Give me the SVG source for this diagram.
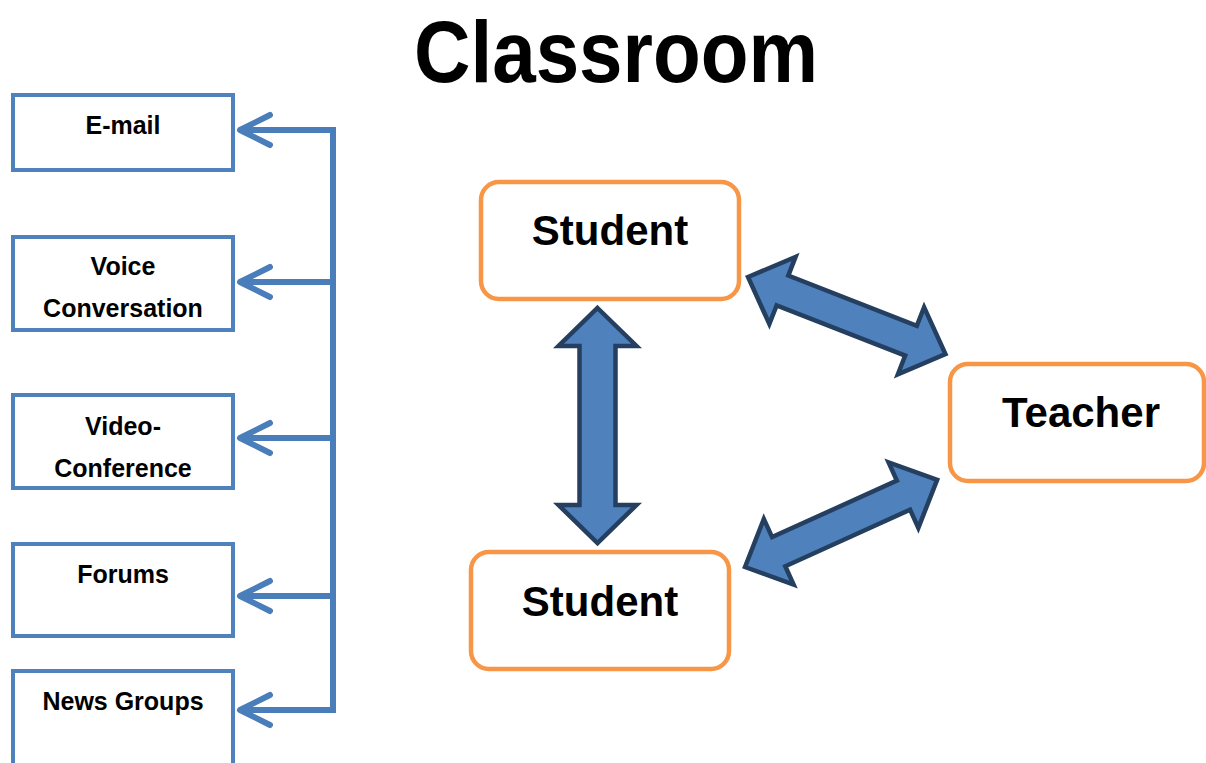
<svg xmlns="http://www.w3.org/2000/svg" width="1206" height="763" viewBox="0 0 1206 763">
<defs>
<style>
.lbox{fill:#fff;stroke:#4F81BD;stroke-width:4}
.obox{fill:#fff;stroke:#F79646;stroke-width:4.5}
.lt{font-family:"Liberation Sans",Arial,sans-serif;font-weight:bold;font-size:25px;fill:#000;text-anchor:middle}
.bt{font-family:"Liberation Sans",Arial,sans-serif;font-weight:bold;font-size:42px;fill:#000;text-anchor:middle}
.conn{fill:none;stroke:#4A7EBB;stroke-width:6}
.blk{fill:#4F81BD;stroke:#243F60;stroke-width:4.5;stroke-linejoin:miter}
</style>
<marker id="chev" viewBox="-36 -20 42 40" markerWidth="42" markerHeight="40" refX="0" refY="0" orient="auto" markerUnits="userSpaceOnUse">
<path d="M-30,-15 L0,0 L-30,15" fill="none" stroke="#4A7EBB" stroke-width="6" stroke-linecap="round" stroke-linejoin="round"/>
</marker>
</defs>
<rect width="1206" height="763" fill="#fff"/>
<text x="616" y="82" font-family="'Liberation Sans',Arial,sans-serif" font-weight="bold" font-size="88" text-anchor="middle" fill="#000" textLength="404" lengthAdjust="spacingAndGlyphs">Classroom</text>

<g id="connectors">
<path class="conn" d="M333,127 V713"/>
<line class="conn" x1="336" y1="130" x2="240" y2="130" marker-end="url(#chev)"/>
<line class="conn" x1="333" y1="282" x2="240" y2="282" marker-end="url(#chev)"/>
<line class="conn" x1="333" y1="438" x2="240" y2="438" marker-end="url(#chev)"/>
<line class="conn" x1="333" y1="596" x2="240" y2="596" marker-end="url(#chev)"/>
<line class="conn" x1="336" y1="710" x2="240" y2="710" marker-end="url(#chev)"/>
<polygon class="blk" transform="translate(597.5,308) rotate(90)" points="0,0 38,-39 38,-18 197,-18 197,-39 235,0 197,39 197,18 38,18 38,39"/>
<polygon class="blk" transform="translate(748,277) rotate(21.35)" points="0,0 37,-36 37,-16 175,-16 175,-36 212,0 175,36 175,16 37,16 37,36"/>
<polygon class="blk" transform="translate(745,567) rotate(-24.4)" points="0,0 37,-36 37,-16 174,-16 174,-36 211,0 174,36 174,16 37,16 37,36"/>
</g>

<g id="email"><rect class="lbox" x="13" y="95" width="220" height="75"/><text class="lt" x="123" y="134">E-mail</text></g>
<g id="voice"><rect class="lbox" x="13" y="237" width="220" height="93"/><text class="lt" x="123" y="275">Voice</text><text class="lt" x="123" y="317">Conversation</text></g>
<g id="video"><rect class="lbox" x="13" y="395" width="220" height="93"/><text class="lt" x="123" y="435">Video-</text><text class="lt" x="123" y="477">Conference</text></g>
<g id="forums"><rect class="lbox" x="13" y="544" width="220" height="92"/><text class="lt" x="123" y="583">Forums</text></g>
<g id="news"><rect class="lbox" x="13" y="671" width="220" height="100"/><text class="lt" x="123" y="710">News Groups</text></g>

<g id="student-top"><rect class="obox" x="481" y="182" width="258" height="117" rx="18"/><text class="bt" x="610" y="245">Student</text></g>
<g id="student-bottom"><rect class="obox" x="471" y="552" width="258" height="117" rx="18"/><text class="bt" x="600" y="616">Student</text></g>
<g id="teacher"><rect class="obox" x="950" y="364" width="254" height="117" rx="18"/><text class="bt" x="1081" y="427">Teacher</text></g>
</svg>
